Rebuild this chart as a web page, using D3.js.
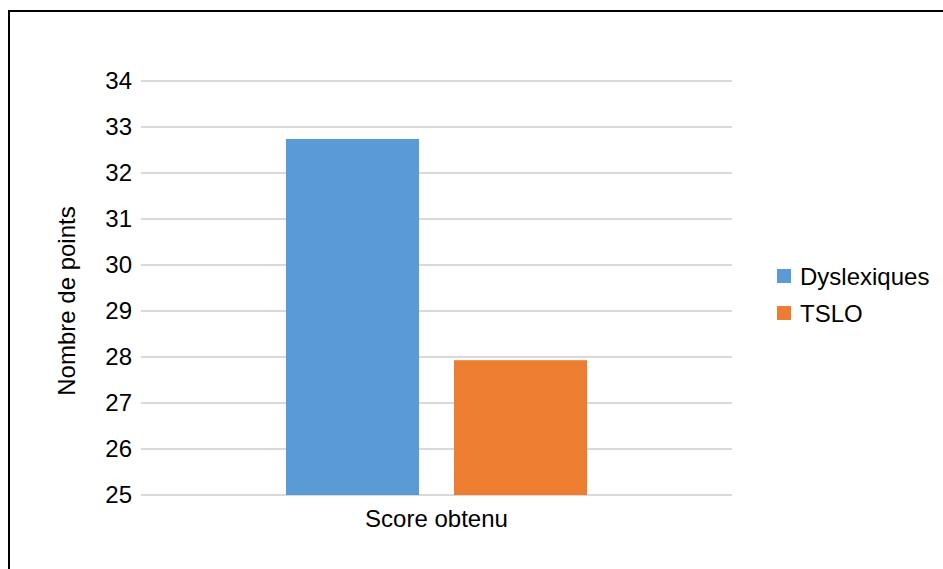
<!DOCTYPE html>
<html>
<head>
<meta charset="utf-8">
<script src="https://cdn.jsdelivr.net/npm/d3@7"></script>
<style>
  html, body { margin: 0; padding: 0; background: #fff; }
  svg { display: block; }
  text { font-family: "Liberation Sans", Arial, sans-serif; fill: #000; }
</style>
</head>
<body>
<svg id="chart" width="943" height="569"></svg>
<script>
// Scores by group
const categories = ["Score obtenu"];
const seriesNames = ["Dyslexiques", "TSLO"];
const dyslexiques = [32.74];
const tslo = [27.93];
const yTicks = [25, 26, 27, 28, 29, 30, 31, 32, 33, 34];
const seriesColors = ["#5b9bd5", "#ed7d31"];

const seriesValues = [dyslexiques, tslo];
const rows = categories.map((c, i) => ({
  category: c,
  values: seriesNames.map((s, j) => ({ series: s, value: seriesValues[j][i] }))
}));

const svg = d3.select("#chart");
const fontSize = "24px";

// Chart frame
svg.append("rect")
  .attr("x", 9).attr("y", 11)
  .attr("width", 960).attr("height", 600)
  .attr("fill", "none").attr("stroke", "#000").attr("stroke-width", 2);

const plot = { left: 141, right: 732, top: 81, bottom: 495 };

const y = d3.scaleLinear().domain([25, 34]).range([plot.bottom, plot.top]);
const x0 = d3.scaleBand().domain(categories)
  .range([plot.left, plot.right]).paddingInner(0.325).paddingOuter(0.325);
const x1 = d3.scaleBand().domain(seriesNames)
  .range([0, x0.bandwidth()]).paddingInner(0.208).paddingOuter(0);
const color = d3.scaleOrdinal().domain(seriesNames).range(seriesColors);

// Horizontal gridlines
svg.append("g").selectAll("line").data(yTicks).join("line")
  .attr("x1", plot.left).attr("x2", plot.right)
  .attr("y1", d => y(d)).attr("y2", d => y(d))
  .attr("stroke", "#d9d9d9").attr("stroke-width", 2);

// Y axis labels
const yAxis = d3.axisLeft(y).tickValues(yTicks).tickSize(0).tickPadding(0).tickFormat(d3.format("d"));
const gy = svg.append("g").attr("transform", `translate(${plot.left - 9},0)`).call(yAxis);
gy.select(".domain").remove();
gy.selectAll("text")
  .style("font-family", '"Liberation Sans", Arial, sans-serif')
  .style("font-size", fontSize).attr("fill", "#000");

// Bars
const groups = svg.append("g").selectAll("g").data(rows).join("g")
  .attr("transform", d => `translate(${x0(d.category)},0)`);
groups.selectAll("rect").data(d => d.values).join("rect")
  .attr("x", d => x1(d.series))
  .attr("width", x1.bandwidth())
  .attr("y", d => y(d.value))
  .attr("height", d => y(25) - y(d.value))
  .attr("fill", d => color(d.series));

// Category axis
const xAxis = d3.axisBottom(x0).tickSize(0).tickPadding(0);
const gx = svg.append("g").attr("transform", `translate(0,${plot.bottom})`).call(xAxis);
gx.select(".domain").remove();
gx.selectAll("text")
  .attr("dy", null).attr("y", 32)
  .style("font-family", '"Liberation Sans", Arial, sans-serif')
  .style("font-size", fontSize).attr("fill", "#000");

// Y axis title
svg.append("text")
  .attr("transform", `translate(75,301) rotate(-90)`)
  .attr("text-anchor", "middle")
  .style("font-size", fontSize)
  .text("Nombre de points");

// Legend
const legend = svg.append("g").attr("transform", "translate(777,269)");
const item = legend.selectAll("g").data(seriesNames).join("g")
  .attr("transform", (d, i) => `translate(0,${i * 37})`);
item.append("rect").attr("width", 14).attr("height", 14).attr("fill", d => color(d));
item.append("text").attr("x", 23).attr("y", 15.5)
  .style("font-size", fontSize).text(d => d);
</script>
</body>
</html>
